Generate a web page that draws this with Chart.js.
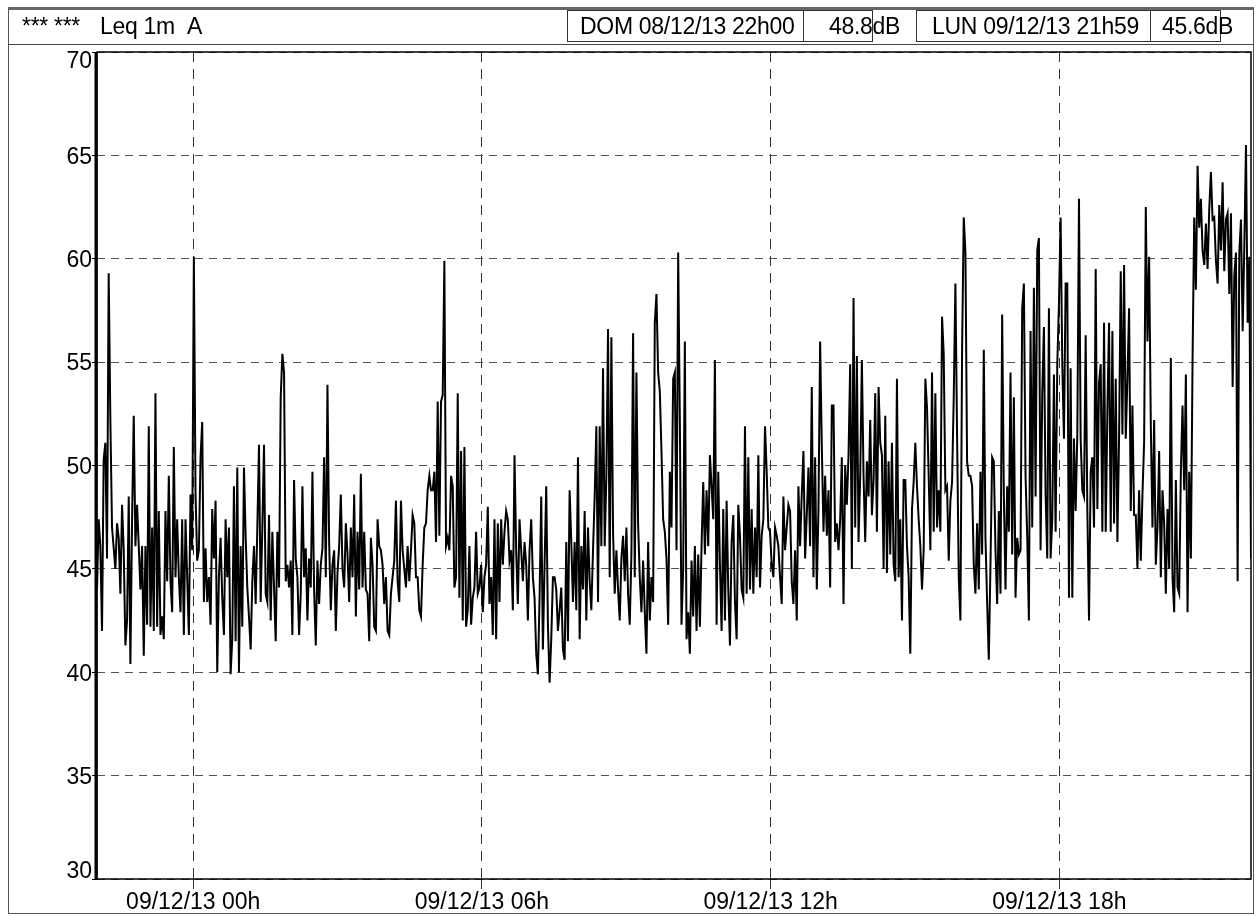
<!DOCTYPE html>
<html>
<head>
<meta charset="utf-8">
<script src="https://cdn.jsdelivr.net/npm/chart.js@4.4.0/dist/chart.umd.min.js"></script>
<style>
  html, body { margin: 0; padding: 0; background: #fff; }
  #wrap { position: relative; width: 1256px; height: 916px; font-family: "Liberation Sans", Arial, sans-serif; font-size: 23px; color: #000; }
  #chart { position: absolute; left: 0; top: 0; }
  .frame { position: absolute; left: 8px; top: 7px; width: 1246px; height: 907px; box-sizing: border-box; border: 1px solid #555; border-top: 3px solid #666; }
  .hline { position: absolute; left: 8px; width: 1246px; height: 0; border-top: 1px solid #444; }
  .txt { position: absolute; top: 10px; height: 32px; line-height: 32px; white-space: nowrap; letter-spacing: -0.3px; }
  .box { position: absolute; top: 10px; height: 32px; box-sizing: border-box; border: 1px solid #333; }
</style>
</head>
<body>
<div id="wrap">
  <canvas id="chart" width="1256" height="916"></canvas>
  <div class="frame"></div>
  <div class="hline" style="top:44px"></div>
  <div class="txt" style="left:22px">*** ***</div>
  <div class="txt" style="left:100px">Leq 1m&nbsp;&nbsp;A</div>
  <div class="box" style="left:567px;width:237px"></div>
  <div class="box" style="left:803px;width:70px"></div>
  <div class="box" style="left:916px;width:235px"></div>
  <div class="box" style="left:1150px;width:71px"></div>
  <div class="txt" style="left:580px">DOM 08/12/13 22h00</div>
  <div class="txt" style="left:829px">48.8dB</div>
  <div class="txt" style="left:932px">LUN 09/12/13 21h59</div>
  <div class="txt" style="left:1162px">45.6dB</div>
</div>
<script>
// Leq 1 min, dB(A), from DOM 08/12/13 22h00 to LUN 09/12/13 21h59
const totalMinutes = 1439;
const xTickMinutes = [120, 480, 840, 1200];
const xTickLabels = ['09/12/13 00h', '09/12/13 06h', '09/12/13 12h', '09/12/13 18h'];
const yTicks = [30, 35, 40, 45, 50, 55, 60, 65, 70];

// levels, evenly spaced in time
const levels = [
  // 22h00 - 00h25
  44.0,47.4,46.1,42.0,50.3,51.1,45.5,59.3,52.2,47.0,
  46.0,45.0,47.2,46.5,43.8,48.1,45.9,41.3,42.5,48.5,
  40.4,47.4,52.4,46.1,48.1,46.1,44.0,46.1,40.8,46.1,
  42.3,51.9,42.2,47.0,42.0,53.5,42.2,47.8,41.8,42.7,
  41.6,47.8,44.4,49.5,44.4,42.9,50.9,44.6,47.4,44.6,
  42.9,47.4,41.8,47.4,44.6,41.8,48.6,45.9,60.1,48.6,
  45.4,45.9,50.4,52.1,43.4,46.0,43.4,44.6,42.3,47.9,
  // 00h25 - 02h50
  45.5,48.3,40.0,44.6,46.5,43.6,41.8,47.4,44.6,47.0,
  39.9,41.6,49.0,41.5,49.9,40.0,46.1,42.2,49.9,46.6,
  44.1,42.7,41.1,44.4,46.1,43.3,47.0,51.0,43.4,47.0,
  51.0,43.8,43.4,47.6,42.5,46.8,44.1,41.5,46.8,44.1,
  53.3,55.4,54.5,44.4,45.2,44.1,45.4,41.8,49.3,45.5,
  44.6,41.8,43.8,49.0,44.6,46.0,42.5,45.5,44.1,49.7,
  44.0,41.3,45.4,43.3,45.2,46.0,50.4,44.6,53.9,
  // 02h50 - 05h15
  46.3,43.0,45.2,45.9,42.0,44.8,46.1,48.6,45.0,44.1,
  47.2,45.7,43.4,47.0,44.6,48.6,42.7,46.8,44.0,49.6,
  44.1,46.8,44.0,43.8,41.5,46.5,45.2,42.2,42.0,47.4,
  46.1,45.9,45.2,43.3,44.6,42.0,41.8,43.8,44.6,45.4,
  48.3,44.4,43.4,48.3,45.9,45.0,44.1,46.1,44.4,45.9,
  47.6,47.2,44.6,44.6,43.0,42.7,45.2,47.0,47.2,48.8,
  49.5,48.8,48.8,49.7,46.3,53.1,46.6,53.1,53.4,
  // 05h15 - 07h40
  59.9,46.1,46.5,45.9,49.5,49.0,44.1,44.6,53.5,43.6,
  50.7,42.5,50.9,42.2,43.0,46.1,42.3,43.6,44.1,46.8,
  43.8,44.1,45.2,42.9,44.6,45.2,48.0,43.3,44.6,41.8,
  47.4,41.6,47.2,43.4,47.4,45.2,46.8,47.8,47.4,45.4,
  45.9,43.0,50.5,45.9,43.3,47.4,45.9,44.4,46.3,45.2,
  42.5,45.9,47.4,44.6,43.6,40.9,39.9,43.6,48.5,41.1,
  45.2,49.0,42.3,39.5,41.6,44.6,44.6,44.0,42.0,
  // 07h40 - 10h05
  43.0,44.1,41.1,40.6,46.3,41.5,48.8,46.3,43.4,46.3,
  43.0,50.4,41.6,46.1,44.0,47.8,42.5,47.0,44.4,43.0,
  45.9,48.5,51.9,43.4,51.9,46.1,54.7,46.1,49.5,56.6,
  44.6,56.2,46.8,43.8,45.9,44.0,42.5,45.5,46.6,44.4,
  47.0,43.8,42.3,45.7,56.4,44.6,54.5,47.2,44.6,42.9,
  45.4,42.9,40.9,46.3,42.5,44.6,43.4,56.9,58.3,54.5,
  53.6,50.7,47.4,46.8,45.5,42.3,49.7,47.0,54.2,
  // 10h05 - 12h30
  54.5,45.9,60.3,52.2,42.3,45.0,56.0,41.6,42.9,40.9,
  45.4,42.7,46.1,42.0,45.7,42.2,46.1,49.2,45.7,48.8,
  46.1,50.5,49.0,47.4,55.1,42.3,49.7,45.2,42.0,47.9,
  42.5,48.3,44.0,41.3,46.3,47.6,43.4,41.6,48.1,46.6,
  44.0,43.6,51.9,43.8,50.4,44.0,47.9,43.8,47.0,44.6,
  50.5,44.1,46.6,47.4,51.9,49.7,47.0,46.8,45.2,44.6,
  47.0,46.6,46.1,44.6,43.3,48.5,45.9,47.0,48.1,
  // 12h30 - 14h55
  47.8,44.4,43.3,45.9,42.5,49.0,46.1,48.6,50.7,45.5,
  47.6,49.9,46.1,53.8,44.6,50.4,44.0,47.9,56.0,51.0,
  46.8,49.5,46.6,48.8,44.1,52.9,52.9,46.3,47.2,45.9,
  47.4,50.4,43.3,50.0,48.1,50.5,54.9,45.0,58.1,47.0,
  55.3,46.3,49.5,55.1,49.5,46.3,50.2,48.5,52.2,47.6,
  49.3,53.5,46.8,53.8,51.1,50.5,45.0,52.4,44.8,50.2,
  45.7,51.1,45.2,44.4,54.2,44.6,47.4,42.5,49.3,
  // 14h55 - 17h20
  49.3,46.1,44.6,40.9,47.9,49.2,51.1,49.0,47.4,46.1,
  44.0,45.9,54.2,52.8,49.5,45.9,54.5,46.8,53.5,47.0,
  48.8,46.8,57.2,55.4,48.8,49.0,45.4,48.3,49.2,53.3,
  58.8,51.5,44.6,42.5,55.6,62.0,60.3,50.2,49.5,49.5,
  49.0,45.2,43.8,47.2,44.0,49.7,45.7,55.6,46.5,43.4,
  40.6,45.2,50.4,50.2,45.9,43.3,47.8,43.8,57.3,48.6,
  44.0,49.0,46.8,54.5,45.7,53.3,43.6,46.5,45.7,
  // 17h20 - 19h45
  45.9,57.6,58.8,49.5,46.6,42.5,56.5,47.0,58.6,48.5,
  60.4,61.0,45.9,53.5,56.7,48.6,45.5,57.6,45.5,47.4,
  54.4,46.8,54.9,57.8,62.0,54.9,51.3,58.8,58.8,43.6,
  54.7,43.6,51.3,47.8,51.5,62.9,51.3,48.8,48.5,56.3,
  47.9,42.5,49.7,50.4,47.0,59.5,47.9,54.0,54.9,46.8,
  56.9,46.8,52.6,56.9,46.8,56.5,47.2,54.2,46.3,51.3,
  59.4,51.5,59.7,51.3,54.2,57.6,47.8,52.9,47.6,
  // 19h45 - 21h59
  47.6,45.0,48.8,45.4,48.6,51.1,62.5,56.0,60.1,52.0,
  47.0,52.2,45.2,47.0,50.7,44.6,48.8,47.2,43.8,47.9,
  45.0,55.2,44.6,42.9,49.3,44.1,43.8,49.7,52.9,48.8,
  54.4,42.9,49.7,45.5,55.1,62.0,58.5,64.5,61.5,62.9,
  60.4,59.7,61.7,59.5,62.4,64.2,61.9,62.0,59.9,58.8,
  62.6,60.4,63.7,59.4,61.9,62.2,58.3,62.2,53.8,59.2,
  60.3,44.4,60.3,61.9,56.5,60.6,65.5,56.9,60.1,45.5
];

const FONT = '"Liberation Sans", Arial, sans-serif';
const step = totalMinutes / (levels.length - 1);
const points = levels.map((v, i) => ({ x: i * step, y: v }));

const plotFrame = {
  id: 'plotFrame',
  afterDraw(chart) {
    const { ctx, chartArea: a, scales: { y } } = chart;
    ctx.save();
    ctx.strokeStyle = '#000';
    ctx.lineWidth = 1.5;
    ctx.strokeRect(a.left, a.top, a.right - a.left, a.bottom - a.top);
    ctx.lineWidth = 3;
    ctx.beginPath();
    ctx.moveTo(a.left - 1, a.top);
    ctx.lineTo(a.left - 1, a.bottom);
    ctx.stroke();
    // y labels, kept inside the plot height at both ends
    ctx.font = '23px ' + FONT;
    ctx.fillStyle = '#000';
    ctx.textAlign = 'right';
    ctx.textBaseline = 'middle';
    yTicks.forEach(v => {
      let py = y.getPixelForValue(v);
      py = Math.min(Math.max(py, a.top + 8), a.bottom - 9);
      ctx.fillText(String(v), a.left - 5, py + 2);
    });
    ctx.restore();
  }
};

new Chart(document.getElementById('chart'), {
  type: 'line',
  data: {
    datasets: [{
      label: 'Leq 1m A',
      data: points,
      borderColor: '#000',
      borderWidth: 2,
      pointRadius: 0,
      tension: 0
    }]
  },
  options: {
    responsive: false,
    animation: false,
    devicePixelRatio: 1,
    layout: { padding: { left: 0, right: 5, top: 52, bottom: 0 } },
    plugins: {
      legend: { display: false },
      tooltip: { enabled: false }
    },
    scales: {
      x: {
        type: 'linear',
        min: 0,
        max: totalMinutes,
        afterBuildTicks: s => { s.ticks = xTickMinutes.map(v => ({ value: v })); },
        afterFit: s => { s.height = 37; },
        grid: { color: '#333', lineWidth: 1, tickLength: 10, tickColor: '#333', tickBorderDash: [10, 7] },
        border: { display: false, dash: [10, 7] },
        ticks: {
          autoSkip: false,
          maxRotation: 0,
          padding: 0,
          color: '#000',
          font: { family: FONT, size: 23 },
          callback: v => xTickLabels[xTickMinutes.indexOf(v)]
        }
      },
      y: {
        min: 30,
        max: 70,
        afterBuildTicks: s => { s.ticks = yTicks.map(v => ({ value: v })); },
        afterFit: s => { s.width = 97; },
        grid: { color: '#555', lineWidth: 1, tickLength: 5, tickColor: '#000' },
        border: { display: false, dash: [8, 6] },
        ticks: { display: false }
      }
    }
  },
  plugins: [plotFrame]
});
</script>
</body>
</html>
